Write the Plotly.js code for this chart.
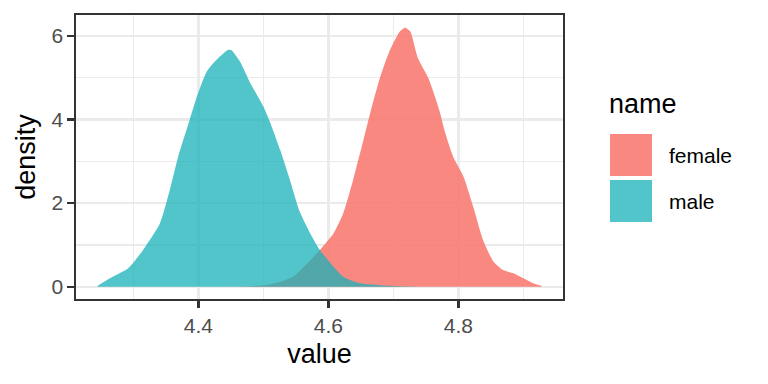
<!DOCTYPE html>
<html>
<head>
<meta charset="utf-8">
<script src="https://cdn.plot.ly/plotly-3.0.1.min.js"></script>
<style>
  html, body { margin: 0; padding: 0; background: #ffffff; }
  #chart { width: 768px; height: 384px; }
</style>
</head>
<body>
<div id="chart"></div>
<script>
// ---- data ----
const seriesNames = ["female", "male"];

const femaleValue = [4.455, 4.48, 4.505, 4.526, 4.546, 4.567, 4.587, 4.608, 4.623, 4.638, 4.654, 4.667, 4.680, 4.695, 4.710, 4.718, 4.726, 4.738, 4.754, 4.764, 4.772, 4.780, 4.792, 4.808, 4.823, 4.838, 4.854, 4.869, 4.885, 4.900, 4.915, 4.928];
const femaleDensity = [0.0, 0.01, 0.04, 0.12, 0.24, 0.55, 0.88, 1.28, 1.76, 2.55, 3.51, 4.31, 5.03, 5.67, 6.11, 6.20, 6.11, 5.47, 4.99, 4.55, 4.15, 3.67, 3.11, 2.63, 1.91, 1.12, 0.60, 0.40, 0.32, 0.20, 0.08, 0.02];

const maleValue = [4.245, 4.264, 4.292, 4.315, 4.341, 4.356, 4.369, 4.385, 4.397, 4.413, 4.428, 4.446, 4.451, 4.464, 4.480, 4.500, 4.510, 4.526, 4.541, 4.556, 4.572, 4.587, 4.608, 4.623, 4.649, 4.685, 4.74];
const maleDensity = [0.02, 0.2, 0.44, 0.88, 1.52, 2.31, 3.11, 3.91, 4.51, 5.15, 5.43, 5.67, 5.66, 5.39, 4.87, 4.31, 3.95, 3.27, 2.55, 1.80, 1.28, 0.88, 0.48, 0.24, 0.08, 0.03, 0.0];

const xTickVals = [4.4, 4.6, 4.8];
const xTickText = ["4.4", "4.6", "4.8"];
const yTickVals = [0, 2, 4, 6];
const yTickText = ["0", "2", "4", "6"];

// ---- styling ----
const fills = ["rgba(248,118,109,0.87)", "rgba(24,178,184,0.75)"];
const FONT = "Liberation Sans, Arial, Helvetica, sans-serif";

const traces = [
  {x: femaleValue, y: femaleDensity, name: seriesNames[0]},
  {x: maleValue, y: maleDensity, name: seriesNames[1]}
].map((t, i) => ({
  x: t.x, y: t.y, name: t.name, type: "scatter", mode: "lines",
  fill: "tozeroy", fillcolor: fills[i],
  line: {width: 0, shape: "spline", smoothing: 0.6, color: fills[i]},
  hoverinfo: "skip", showlegend: false
}));

// legend drawn as shapes / annotations (ggplot-style large square keys)
const L = 76, T = 15, W = 487, H = 284;
const px = x => (x - L) / W;
const py = y => (T + H - y) / H;

const shapes = [];
const annotations = [];
const keyTop = [134, 180];
seriesNames.forEach((nm, i) => {
  shapes.push({type: "rect", xref: "paper", yref: "paper",
    x0: px(610), x1: px(652), y0: py(keyTop[i] + 42), y1: py(keyTop[i]),
    fillcolor: fills[i], line: {width: 0}, layer: "above"});
  annotations.push({xref: "paper", yref: "paper", x: px(667), y: py(keyTop[i] + 21),
    xanchor: "left", yanchor: "middle", showarrow: false, text: nm,
    font: {family: FONT, size: 21, color: "#000000"}});
});
annotations.push({xref: "paper", yref: "paper", x: px(607), y: py(104),
  xanchor: "left", yanchor: "middle", showarrow: false, text: "name",
  font: {family: FONT, size: 27, color: "#000000"}});

const axisCommon = {
  showgrid: true, gridcolor: "#EBEBEB", gridwidth: 2.4,
  zeroline: false,
  showline: true, mirror: true, linecolor: "#333333", linewidth: 1.6,
  ticks: "outside", ticklen: 7, tickwidth: 2.4, tickcolor: "#333333",
  tickfont: {family: FONT, size: 21, color: "#4D4D4D"},
  fixedrange: true
};

const layout = {
  width: 768, height: 384,
  margin: {l: L, r: 768 - L - W, t: T, b: 384 - T - H},
  paper_bgcolor: "#ffffff", plot_bgcolor: "#ffffff",
  showlegend: false,
  xaxis: Object.assign({}, axisCommon, {
    range: [4.2118, 4.9610],
    tickmode: "array", tickvals: xTickVals, ticktext: xTickText,
    minor: {dtick: 0.2, tick0: 4.3, showgrid: true, gridcolor: "#EBEBEB", gridwidth: 1.2, ticks: ""},
    title: {text: "value", font: {family: FONT, size: 27, color: "#000000"}, standoff: 8}
  }),
  yaxis: Object.assign({}, axisCommon, {
    range: [-0.2944, 6.5026],
    tickmode: "array", tickvals: yTickVals, ticktext: yTickText,
    minor: {dtick: 2, tick0: 1, showgrid: true, gridcolor: "#EBEBEB", gridwidth: 1.2, ticks: ""},
    title: {text: "density", font: {family: FONT, size: 27, color: "#000000"}, standoff: 8}
  }),
  shapes: shapes,
  annotations: annotations
};

Plotly.newPlot("chart", traces, layout, {staticPlot: true, displayModeBar: false});
</script>
</body>
</html>
